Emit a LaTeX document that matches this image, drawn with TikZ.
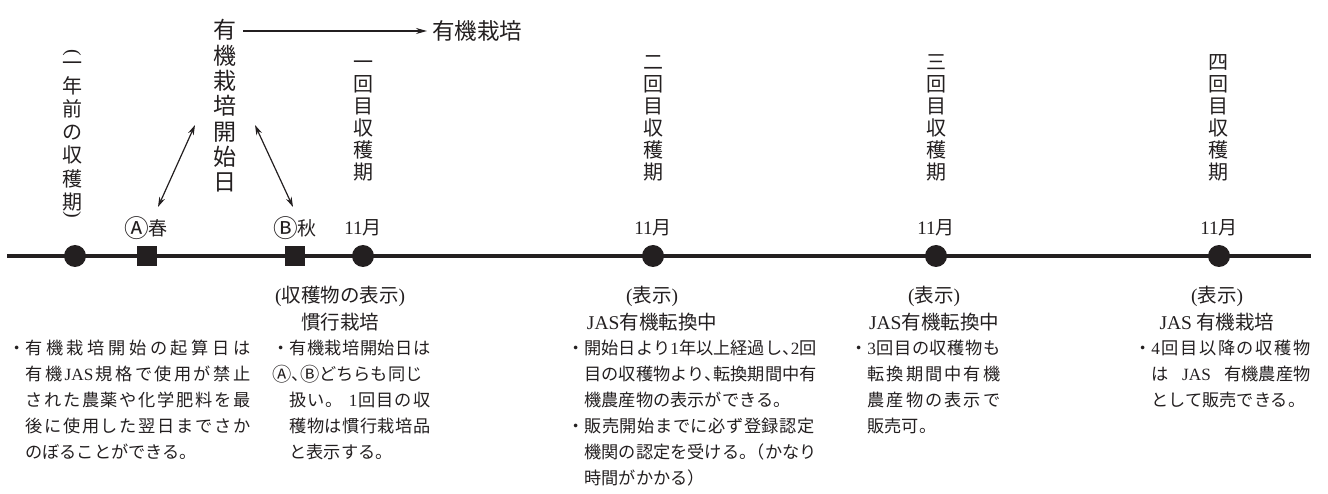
\documentclass[tikz,border=0pt]{standalone}
\usepackage{fontspec}
\usepackage{graphicx}
\usetikzlibrary{arrows.meta}
\newfontfamily\jp{Noto Sans CJK JP}
\newfontfamily\lat{Liberation Serif}
\definecolor{ink}{RGB}{35,31,32}
\newcommand{\lt}[1]{{\lat #1}}
\newcommand{\tk}{\makebox[.5em][l]{、}}
\newcommand{\mr}{\makebox[.5em][l]{。}}
\newcommand{\ca}{\raisebox{-.1em}{\scalebox{1.3}{Ⓐ}}}
\newcommand{\cb}{\raisebox{-.1em}{\scalebox{1.3}{Ⓑ}}}
\newcommand{\smca}{\raisebox{-.04em}{\scalebox{1.12}{Ⓐ}}}
\newcommand{\smcb}{\raisebox{-.04em}{\scalebox{1.12}{Ⓑ}}}
\def\spr#1{#1\sprx}
\def\sprx#1{\ifx\relax#1\else\hskip 0pt plus 1fil\relax#1\expandafter\sprx\fi}
\newcommand{\bl}[2]{\makebox[1em][l]{・}\makebox[#1][s]{\spr#2\relax}}
\newcommand{\cl}[2]{\hspace*{1em}\makebox[#1][s]{\spr#2\relax}}
\newcommand{\nl}[1]{\hspace*{1em}#1}
\begin{document}
\begin{tikzpicture}[x=1pt,y=-1pt,
  body/.style={anchor=north west,inner sep=0pt,align=left,text=ink,font=\jp\fontsize{17.2}{26}\selectfont},
  head/.style={inner sep=0pt,align=center,text=ink,font=\jp\fontsize{19.5}{27}\selectfont},
  lab/.style={inner sep=0pt,text=ink,font=\jp\fontsize{19}{22}\selectfont},
  vert/.style={inner sep=0pt,align=center,text=ink,font=\jp\fontsize{20}{22}\selectfont},
  vertb/.style={inner sep=0pt,align=center,text=ink,font=\jp\fontsize{23}{25.3}\selectfont},
  big/.style={inner sep=0pt,text=ink,font=\jp\fontsize{22.5}{26}\selectfont},
  dot/.style={circle,fill=ink,minimum size=22pt,inner sep=0pt},
  sq/.style={rectangle,fill=ink,minimum size=20pt,inner sep=0pt},
  tline/.style={draw=ink,line width=4pt},
  arr/.style={draw=ink,line width=1.2pt,-{Stealth[length=11pt,width=6pt]}},
  darr/.style={draw=ink,line width=1.2pt,{Stealth[length=10pt,width=6pt]}-{Stealth[length=10pt,width=6pt]}}
]
\useasboundingbox (0,0) rectangle (1328,494);

% timeline
\coordinate (L) at (7,256);
\coordinate (R) at (1311,256);
\draw[tline] (L) -- (R);
\node[dot] (p0) at (75,256) {};
\node[sq] (sa) at (147,256) {};
\node[sq] (sb) at (295,256) {};
\node[dot] (p1) at (363,256) {};
\node[dot] (p2) at (653,256) {};
\node[dot] (p3) at (936,256) {};
\node[dot] (p4) at (1219,256) {};

% labels above the line
\node[lab] (la) at (146,228) {\ca 春};
\node[lab] (lb) at (295,228) {\cb 秋};
\node[lab] (m1) at (363,228) {\lt{11}月};
\node[lab] (m2) at (653,228) {\lt{11}月};
\node[lab] (m3) at (936,228) {\lt{11}月};
\node[lab] (m4) at (1219,228) {\lt{11}月};

% vertical texts
\node[lab,rotate=-90,font=\lat\fontsize{20}{22}\selectfont] (q0a) at (72,53) {(};
\node[vert,font=\jp\fontsize{20}{23.2}\selectfont] (c0) at (72,132.5) {\vphantom{回}一\\年\\前\\の\\収\\穫\\期};
\node[lab,rotate=-90,font=\lat\fontsize{20}{22}\selectfont] (q0b) at (72,215) {)};
\node[vertb] (st) at (225,106) {有\\機\\栽\\培\\開\\始\\日};
\node[vert] (c1) at (363,117) {\vphantom{回}一\\回\\目\\収\\穫\\期};
\node[vert] (c2) at (653,117) {\vphantom{回}二\\回\\目\\収\\穫\\期};
\node[vert] (c3) at (936,117) {\vphantom{回}三\\回\\目\\収\\穫\\期};
\node[vert] (c4) at (1218,117) {\vphantom{回}四\\回\\目\\収\\穫\\期};

% top arrow
\coordinate (a0) at (243,31);
\node[big,anchor=west] (yk) at (432,31) {有機栽培};
\draw[arr] (a0) -- ([xshift=-5pt]yk.west);

% double arrows
\coordinate (d1a) at (195,125);
\coordinate (d1b) at (158,207);
\coordinate (d2a) at (255,125);
\coordinate (d2b) at (293,207);
\draw[darr] (d1a) -- (d1b);
\draw[darr] (d2a) -- (d2b);

% headers below the line
\node[head] (h1) at (340,308.5) {\lt{(}収穫物の表示\lt{)}\\慣行栽培};
\node[head] (h2) at (652,308.5) {\lt{(}表示\lt{)}\\\lt{JAS}有機転換中};
\node[head] (h3) at (934,308.5) {\lt{(}表示\lt{)}\\\lt{JAS}有機転換中};
\node[head] (h4) at (1217,308.5) {\lt{(}表示\lt{)}\\\lt{JAS} 有機栽培};

% body texts
\node[body] (t1) at (8,340) {\bl{225pt}{有機栽培開始の起算日は}\\%
\cl{225pt}{有機{\lt{JAS}}規格で使用が禁止}\\%
\cl{225pt}{された農薬や化学肥料を最}\\%
\cl{225pt}{後に使用した翌日までさか}\\%
\nl{のぼることができる。}};

\node[body] (t2) at (272,340) {\bl{141pt}{有機栽培開始日は}\\%
\makebox[158pt][s]{\smca\tk\smcb どちらも同じ}\\%
\cl{141pt}{扱い。{\ }{\lt{1}}回目の収}\\%
\cl{141pt}{穫物は慣行栽培品}\\%
\nl{と表示する。}};

\node[body] (t3) at (567,340) {\bl{230pt}{開始日より{\lt{1}}年以上経過し\tk{\lt{2}}回}\\%
\cl{230pt}{目の収穫物より\tk 転換期間中有}\\%
\nl{機農産物の表示ができる。}\\%
\bl{230pt}{販売開始までに必ず登録認定}\\%
\cl{230pt}{機関の認定を受ける\mr （かなり}\\%
\nl{時間がかかる）}};

\node[body] (t4) at (850,340) {\bl{133pt}{{\lt{3}}回目の収穫物も}\\%
\cl{133pt}{転換期間中有機}\\%
\cl{133pt}{農産物の表示で}\\%
\nl{販売可。}};

\node[body] (t5) at (1134,340) {\bl{159pt}{{\lt{4}}回目以降の収穫物}\\%
\hspace*{1em}\makebox[159pt][s]{は \lt{JAS} 有機農産物}\\%
\nl{として販売できる。}};
\end{tikzpicture}
\end{document}
